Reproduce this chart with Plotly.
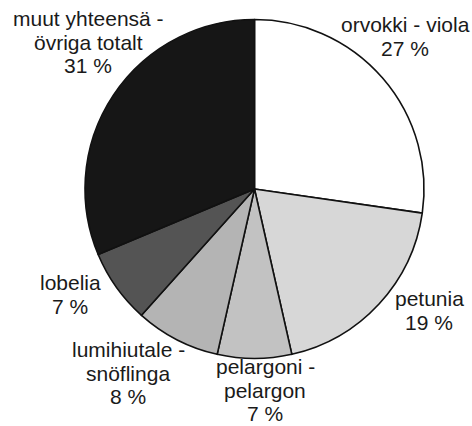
import plotly.graph_objects as go

# Share of each plant (%), clockwise from 12 o'clock
names = ["orvokki - viola", "petunia", "pelargoni - pelargon",
         "lumihiutale - snöflinga", "lobelia", "muut yhteensä - övriga totalt"]
shares = [27, 19, 7, 8, 7, 31]
fills = ["#ffffff", "#d7d7d7", "#c2c2c2", "#b4b4b4", "#545454", "#161616"]

# Label lines per slice (the last line is the percentage)
label_lines = [
    ["orvokki - viola"],
    ["petunia"],
    ["pelargoni -", "pelargon"],
    ["lumihiutale -", "snöflinga"],
    ["lobelia"],
    ["muut yhteensä -", "övriga totalt"],
]
# Label block placement in pixels: centre x, first baseline y
label_pos = [(405, 32), (429, 306), (265, 374), (128, 357), (70, 290), (88, 26)]

W, H = 472, 426
FS = 21
PITCH = 23.5

fig = go.Figure(go.Pie(
    labels=names,
    values=shares,
    sort=False,
    direction="clockwise",
    rotation=0,
    marker=dict(colors=fills, line=dict(color="#111111", width=1.6)),
    textinfo="none",
    hoverinfo="skip",
    showlegend=False,
    domain=dict(x=[85 / W, 424 / W], y=[1 - 359 / H, 1 - 19 / H]),
))

annotations = []
for lines, share, (cx, by) in zip(label_lines, shares, label_pos):
    for i, line in enumerate(lines + [f"{share} %"]):
        baseline = by + i * PITCH
        annotations.append(dict(
            x=cx / W, y=1 - (baseline - 0.35 * FS) / H,
            xref="paper", yref="paper",
            text=line, showarrow=False,
            xanchor="center", yanchor="middle",
            font=dict(family="Liberation Sans", size=FS, color="#1a1a1a"),
        ))

fig.update_layout(
    width=W, height=H,
    margin=dict(l=0, r=0, t=0, b=0),
    paper_bgcolor="white",
    plot_bgcolor="white",
    annotations=annotations,
)

fig.write_html("out.html")
